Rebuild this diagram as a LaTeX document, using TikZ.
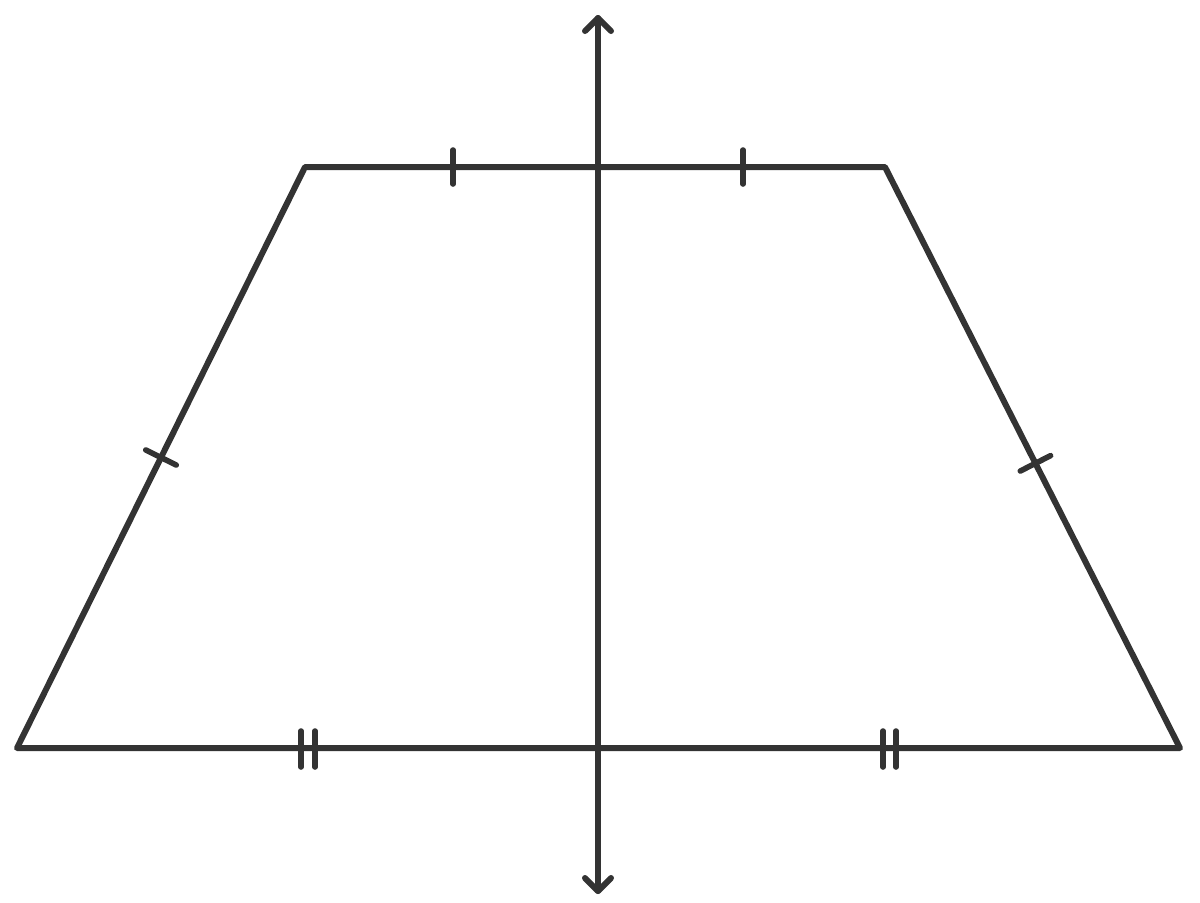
\documentclass[tikz,border=0pt]{standalone}
\usetikzlibrary{calc}
\definecolor{ink}{HTML}{333333}
\begin{document}
\begin{tikzpicture}[x=0.5pt,y=-0.5pt,
  edge/.style={draw=ink,line width=3pt,line cap=round,line join=round},
  tick/.style={draw=ink,line width=2.8pt,line cap=round}]
\useasboundingbox (0,0) rectangle (1200,902);
% vertices
\coordinate (A) at (17,748);
\coordinate (B) at (305,167);
\coordinate (C) at (885,167);
\coordinate (D) at (1180,748);
\coordinate (T) at (598,18);
\coordinate (Bt) at (598,891);
% trapezoid
\draw[edge] (A) -- (B) -- (C) -- (D) -- cycle;
% axis
\draw[edge] (T) -- (Bt);
\draw[edge] ($(T)+(-13,13)$) -- (T) -- ($(T)+(13,13)$);
\draw[edge] ($(Bt)+(-13,-13)$) -- (Bt) -- ($(Bt)+(13,-13)$);
% top ticks
\draw[tick] (453,150) -- (453,184);
\draw[tick] (743,150) -- (743,184);
% slanted ticks
\coordinate (ML) at ($(A)!0.5!(B)$);
\coordinate (MR) at ($(C)!0.51!(D)$);
\draw[tick] ($(ML)!8.5pt!90:(B)$) -- ($(ML)!8.5pt!-90:(B)$);
\draw[tick] ($(MR)!8.5pt!90:(D)$) -- ($(MR)!8.5pt!-90:(D)$);
% bottom double ticks
\draw[tick] (301,731) -- (301,767);
\draw[tick] (315,731) -- (315,767);
\draw[tick] (883,731) -- (883,767);
\draw[tick] (896,731) -- (896,767);
\end{tikzpicture}
\end{document}
